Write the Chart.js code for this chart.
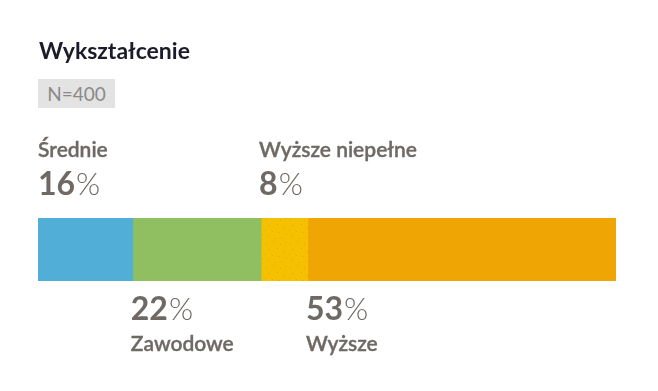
<!DOCTYPE html>
<html>
<head>
<meta charset="utf-8">
<script src="https://cdn.jsdelivr.net/npm/chart.js@4/dist/chart.umd.min.js"></script>
<style>
  html, body { margin: 0; padding: 0; background: #fff; }
  body { width: 658px; height: 391px; position: relative; overflow: hidden; font-family: Lato, "Open Sans", sans-serif; }
  #title { position: absolute; left: 39px; top: 39px; font-size: 23px; line-height: 23px; font-weight: 700; color: #1b1b29; white-space: nowrap; }
  #badge { position: absolute; left: 38px; top: 79px; width: 77px; height: 29px; line-height: 29px; background: #e3e3e3; color: #8a8a8a; font-size: 19px; text-align: center; }
  #wrap { position: absolute; left: 0; top: 0; width: 658px; height: 391px; }
</style>
</head>
<body>
<div id="wrap"><canvas id="c" width="658" height="391"></canvas></div>
<div id="title">Wykształcenie</div>
<div id="badge">N=400</div>
<script>
// ---- data ----
const categories = ["Średnie", "Zawodowe", "Wyższe niepełne", "Wyższe"];
const values = [16.4, 22.2, 8.1, 53.3];
const colors = ["#51aed6", "#8fbf60", "#f5c000", "#efa503"];
const sampleLabel = "N=400";

const total = values.reduce((a, b) => a + b, 0);

function dottedPattern(base, dot) {
  const p = document.createElement('canvas');
  p.width = 24; p.height = 24;
  const g = p.getContext('2d');
  g.fillStyle = base; g.fillRect(0, 0, 24, 24);
  g.fillStyle = dot;
  const pts = [[2,3],[9,1],[16,4],[21,2],[5,9],[13,8],[19,11],[1,14],[8,15],[15,16],[22,18],[4,20],[11,22],[18,21]];
  pts.forEach(([x, y]) => g.fillRect(x, y, 1, 1));
  return g.createPattern(p, 'repeat');
}

const ctxEl = document.getElementById('c');
const bgs = colors.map((c, i) => i === 2 ? dottedPattern(c, '#e6a60a') : c);

const labelPlugin = {
  id: 'segLabels',
  afterDatasetsDraw(chart) {
    const ctx = chart.ctx;
    const xs = chart.scales.x;
    ctx.save();
    ctx.textAlign = 'left';
    ctx.textBaseline = 'alphabetic';
    let cum = 0;
    chart.data.datasets.forEach((ds, i) => {
      const pct = Math.round(ds.data[0]);
      const left = Math.max(xs.getPixelForValue(cum), chart.getDatasetMeta(i).data[0].base - 2);
      cum += pct;
      const above = i % 2 === 0;
      const nameY = above ? 157 : 351;
      const numY = above ? 195 : 320;
      ctx.fillStyle = '#6e6964';
      ctx.strokeStyle = '#6e6964';
      ctx.lineWidth = 0.35;
      ctx.font = '600 21px Lato, "Open Sans", sans-serif';
      ctx.fillText(ds.label, left, nameY);
      ctx.strokeText(ds.label, left, nameY);
      ctx.font = '700 32px Lato, "Open Sans", sans-serif';
      const numStr = String(pct);
      ctx.fillText(numStr, left, numY);
      const w = ctx.measureText(numStr).width;
      ctx.font = '300 31px Lato, "Open Sans", sans-serif';
      ctx.fillText('%', left + w + 1, numY);
    });
    ctx.restore();
  }
};

new Chart(ctxEl, {
  type: 'bar',
  data: {
    labels: [''],
    datasets: categories.map((name, i) => ({
      label: name,
      data: [values[i]],
      backgroundColor: bgs[i],
      borderWidth: 0,
      barPercentage: 1,
      categoryPercentage: 1
    }))
  },
  options: {
    indexAxis: 'y',
    responsive: false,
    animation: false,
    layout: { padding: { left: 38, right: 42, top: 218, bottom: 110 } },
    plugins: { legend: { display: false }, tooltip: { enabled: false } },
    scales: {
      x: { stacked: true, display: false, min: 0, max: total },
      y: { stacked: true, display: false }
    }
  },
  plugins: [labelPlugin]
});
</script>
</body>
</html>
